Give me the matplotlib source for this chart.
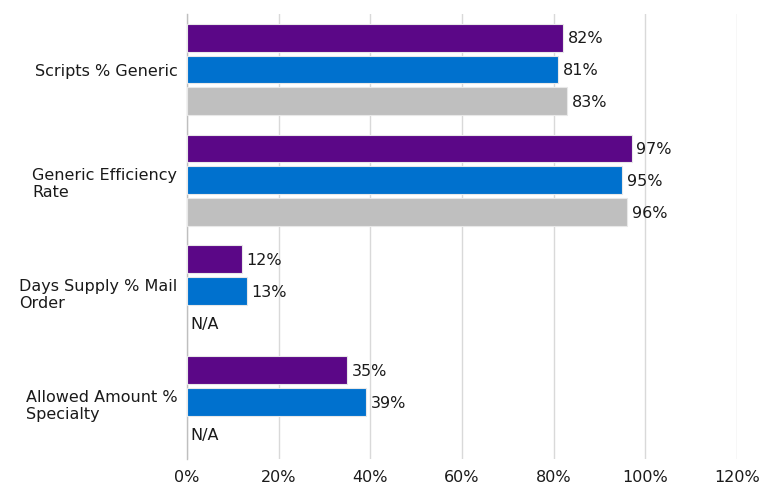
import numpy as np
import matplotlib.pyplot as plt

categories = ["Scripts % Generic", "Generic Efficiency\nRate",
              "Days Supply % Mail\nOrder", "Allowed Amount %\nSpecialty"]
series_a = [82, 97, 12, 35]       # purple
series_b = [81, 95, 13, 39]       # blue
series_c = [83, 96, None, None]   # gray, N/A for last two
xticks = [0, 20, 40, 60, 80, 100, 120]

colors = ["#5B0787", "#0071CE", "#BFBFBF"]

fig = plt.figure(figsize=(7.61, 4.85), dpi=100)
ax = fig.add_axes([187 / 761, 1 - 460 / 485, 550 / 761, 445 / 485])

y = np.arange(len(categories))
step = 0.288
height = 0.252
fs = 11.5

for i, (vals, col) in enumerate(zip([series_a, series_b, series_c], colors)):
    pos = y + (i - 1) * step
    for p, v in zip(pos, vals):
        if v is None:
            ax.text(0.8, p, "N/A", va="center", ha="left", fontsize=fs, color="#1a1a1a")
            continue
        ax.barh(p, v, height=height, color=col, edgecolor="#e8e8e8", linewidth=0.8, zorder=3)
        ax.text(v + 1.0, p, f"{v}%", va="center", ha="left", fontsize=fs, color="#1a1a1a")

ax.set_xlim(0, 120)
ax.set_ylim(3.51, -0.5)
ax.set_xticks(xticks)
ax.set_xticklabels([f"{t}%" for t in xticks], fontsize=fs, color="#1a1a1a")
ax.set_yticks(y)
ax.set_yticklabels(categories, fontsize=fs, color="#1a1a1a", ha="right", multialignment="left")
ax.tick_params(axis="both", length=0)
ax.tick_params(axis="x", pad=7)
ax.tick_params(axis="y", pad=7)

ax.grid(axis="x", color="#d9d9d9", linewidth=1, zorder=0)
for s in ["top", "right", "bottom"]:
    ax.spines[s].set_visible(False)
ax.spines["left"].set_color("#bfbfbf")
ax.spines["left"].set_linewidth(1)

fig.savefig("out.png", dpi=100)
